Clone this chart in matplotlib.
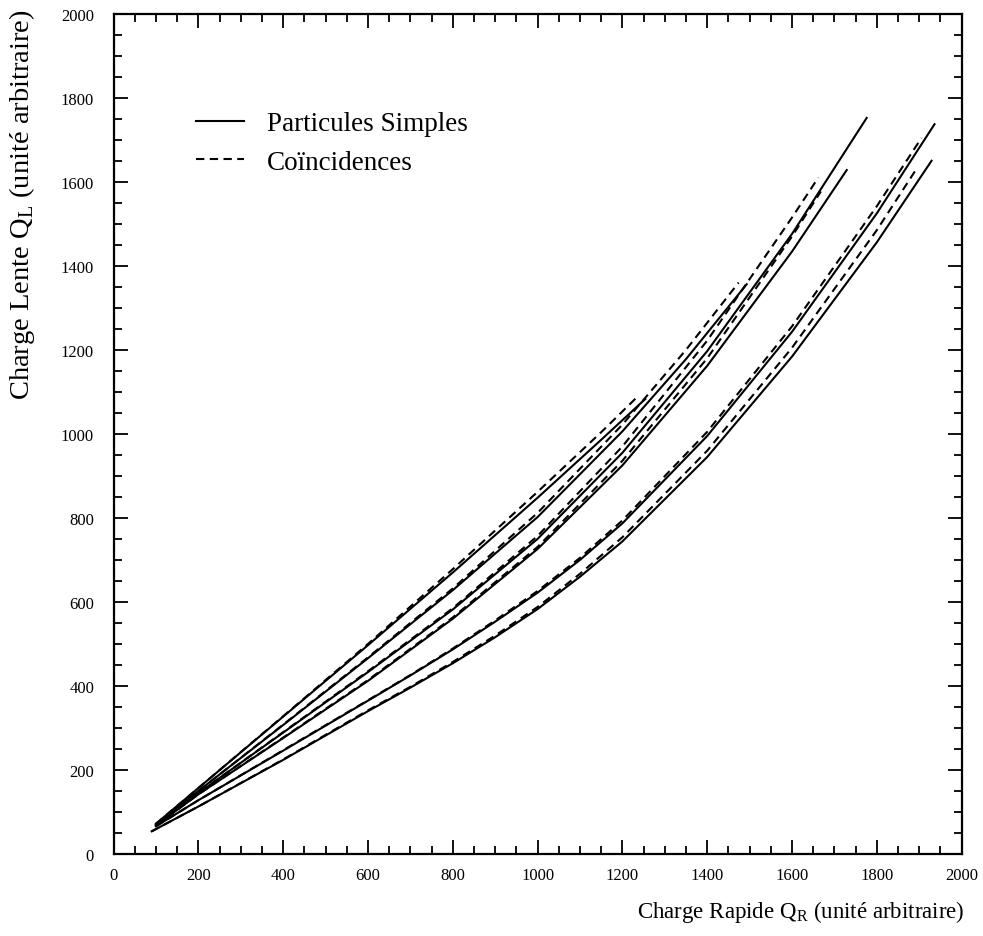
import matplotlib.pyplot as plt
from matplotlib.ticker import MultipleLocator

plt.rcParams['font.family'] = ['Liberation Serif', 'DejaVu Serif']
plt.rcParams['mathtext.fontset'] = 'custom'
plt.rcParams['mathtext.rm'] = 'Liberation Serif'

# courbes "Particules Simples" (traits pleins)
s1_x = [100, 200, 400, 600, 800, 1000, 1150, 1254]
s1_y = [72, 157, 327, 497, 670, 848, 986, 1083]
s2_x = [100, 200, 400, 600, 800, 1000, 1200, 1350, 1493]
s2_y = [70, 150, 307, 466, 628, 802, 1006, 1178, 1356]
s3_x = [100, 200, 400, 600, 800, 1000, 1200, 1400, 1600, 1776]
s3_y = [69, 145, 289, 433, 582, 750, 955, 1197, 1476, 1752]
s4_x = [100, 200, 400, 600, 800, 1000, 1200, 1400, 1600, 1729]
s4_y = [68, 142, 276, 412, 560, 726, 925, 1162, 1434, 1628]
s5_x = [100, 200, 400, 600, 700, 800, 900, 1000, 1100, 1200, 1400, 1600, 1800, 1936]
s5_y = [66, 128, 246, 365, 425, 487, 553, 622, 700, 787, 995, 1243, 1525, 1737]
s6_x = [90, 200, 400, 600, 700, 800, 900, 1000, 1100, 1200, 1400, 1600, 1800, 1929]
s6_y = [54, 113, 224, 340, 396, 454, 516, 583, 660, 744, 945, 1184, 1456, 1650]

# courbes "Coincidences" (tirets)
d1_x = [100, 200, 400, 600, 800, 1000, 1150, 1234]
d1_y = [72, 157, 328, 500, 678, 862, 1004, 1087]
d2_x = [100, 200, 400, 600, 800, 1000, 1200, 1350, 1474]
d2_y = [70, 150, 308, 468, 632, 812, 1022, 1200, 1360]
d3_x = [100, 200, 400, 600, 800, 1000, 1200, 1400, 1600, 1662]
d3_y = [69, 145, 290, 435, 585, 757, 970, 1222, 1515, 1610]
d4_x = [100, 200, 400, 600, 800, 1000, 1200, 1400, 1600, 1668]
d4_y = [68, 142, 277, 414, 563, 731, 936, 1180, 1470, 1577]
d5_x = [100, 200, 400, 600, 700, 800, 900, 1000, 1100, 1200, 1400, 1600, 1800, 1905]
d5_y = [66, 128, 247, 366, 426, 489, 556, 626, 705, 794, 1005, 1256, 1542, 1704]
d6_x = [90, 200, 400, 600, 700, 800, 900, 1000, 1100, 1200, 1400, 1600, 1800, 1893]
d6_y = [54, 113, 225, 342, 398, 457, 520, 588, 667, 754, 960, 1205, 1485, 1630]

solides = [(s1_x, s1_y), (s2_x, s2_y), (s3_x, s3_y), (s4_x, s4_y), (s5_x, s5_y), (s6_x, s6_y)]
tirets = [(d1_x, d1_y), (d2_x, d2_y), (d3_x, d3_y), (d4_x, d4_y), (d5_x, d5_y), (d6_x, d6_y)]

fig = plt.figure(figsize=(9.83, 9.37), dpi=100)
ax = fig.add_axes([0.1155, 0.0875, 0.8628, 0.8968])

dash = (0, (4, 2.6))
for i, (x, y) in enumerate(solides):
    ax.plot(x, y, color='black', lw=1.5, label='Particules Simples' if i == 0 else None)
for i, (x, y) in enumerate(tirets):
    ax.plot(x, y, color='black', lw=1.5, linestyle=dash, label='Coïncidences' if i == 0 else None)

ax.set_xlim(0, 2000)
ax.set_ylim(0, 2000)
ax.xaxis.set_major_locator(MultipleLocator(200))
ax.xaxis.set_minor_locator(MultipleLocator(50))
ax.yaxis.set_major_locator(MultipleLocator(200))
ax.yaxis.set_minor_locator(MultipleLocator(50))
ax.tick_params(which='both', direction='in', top=True, right=True, width=1.3, labelsize=12)
ax.tick_params(which='major', length=10)
ax.tick_params(which='minor', length=5.5)
ax.tick_params(axis='y', pad=14)
ax.tick_params(axis='x', pad=9)
for sp in ax.spines.values():
    sp.set_linewidth(1.6)

leg = ax.legend(loc='upper left', bbox_to_anchor=(0.085, 0.897), frameon=False,
                fontsize=19.5, handlelength=1.75, handletextpad=0.85, labelspacing=0.5,
                borderaxespad=0)

fig.text(965 / 983, 1 - 912 / 937, r'Charge Rapide Q$_\mathrm{R}$ (unité arbitraire)',
         ha='right', va='center', fontsize=16.5)
fig.text(22 / 983, 1 - 9 / 937, r'Charge Lente Q$_\mathrm{L}$ (unité arbitraire)',
         ha='center', va='top', rotation=90, fontsize=20.5)

fig.savefig('out.png', dpi=100)
